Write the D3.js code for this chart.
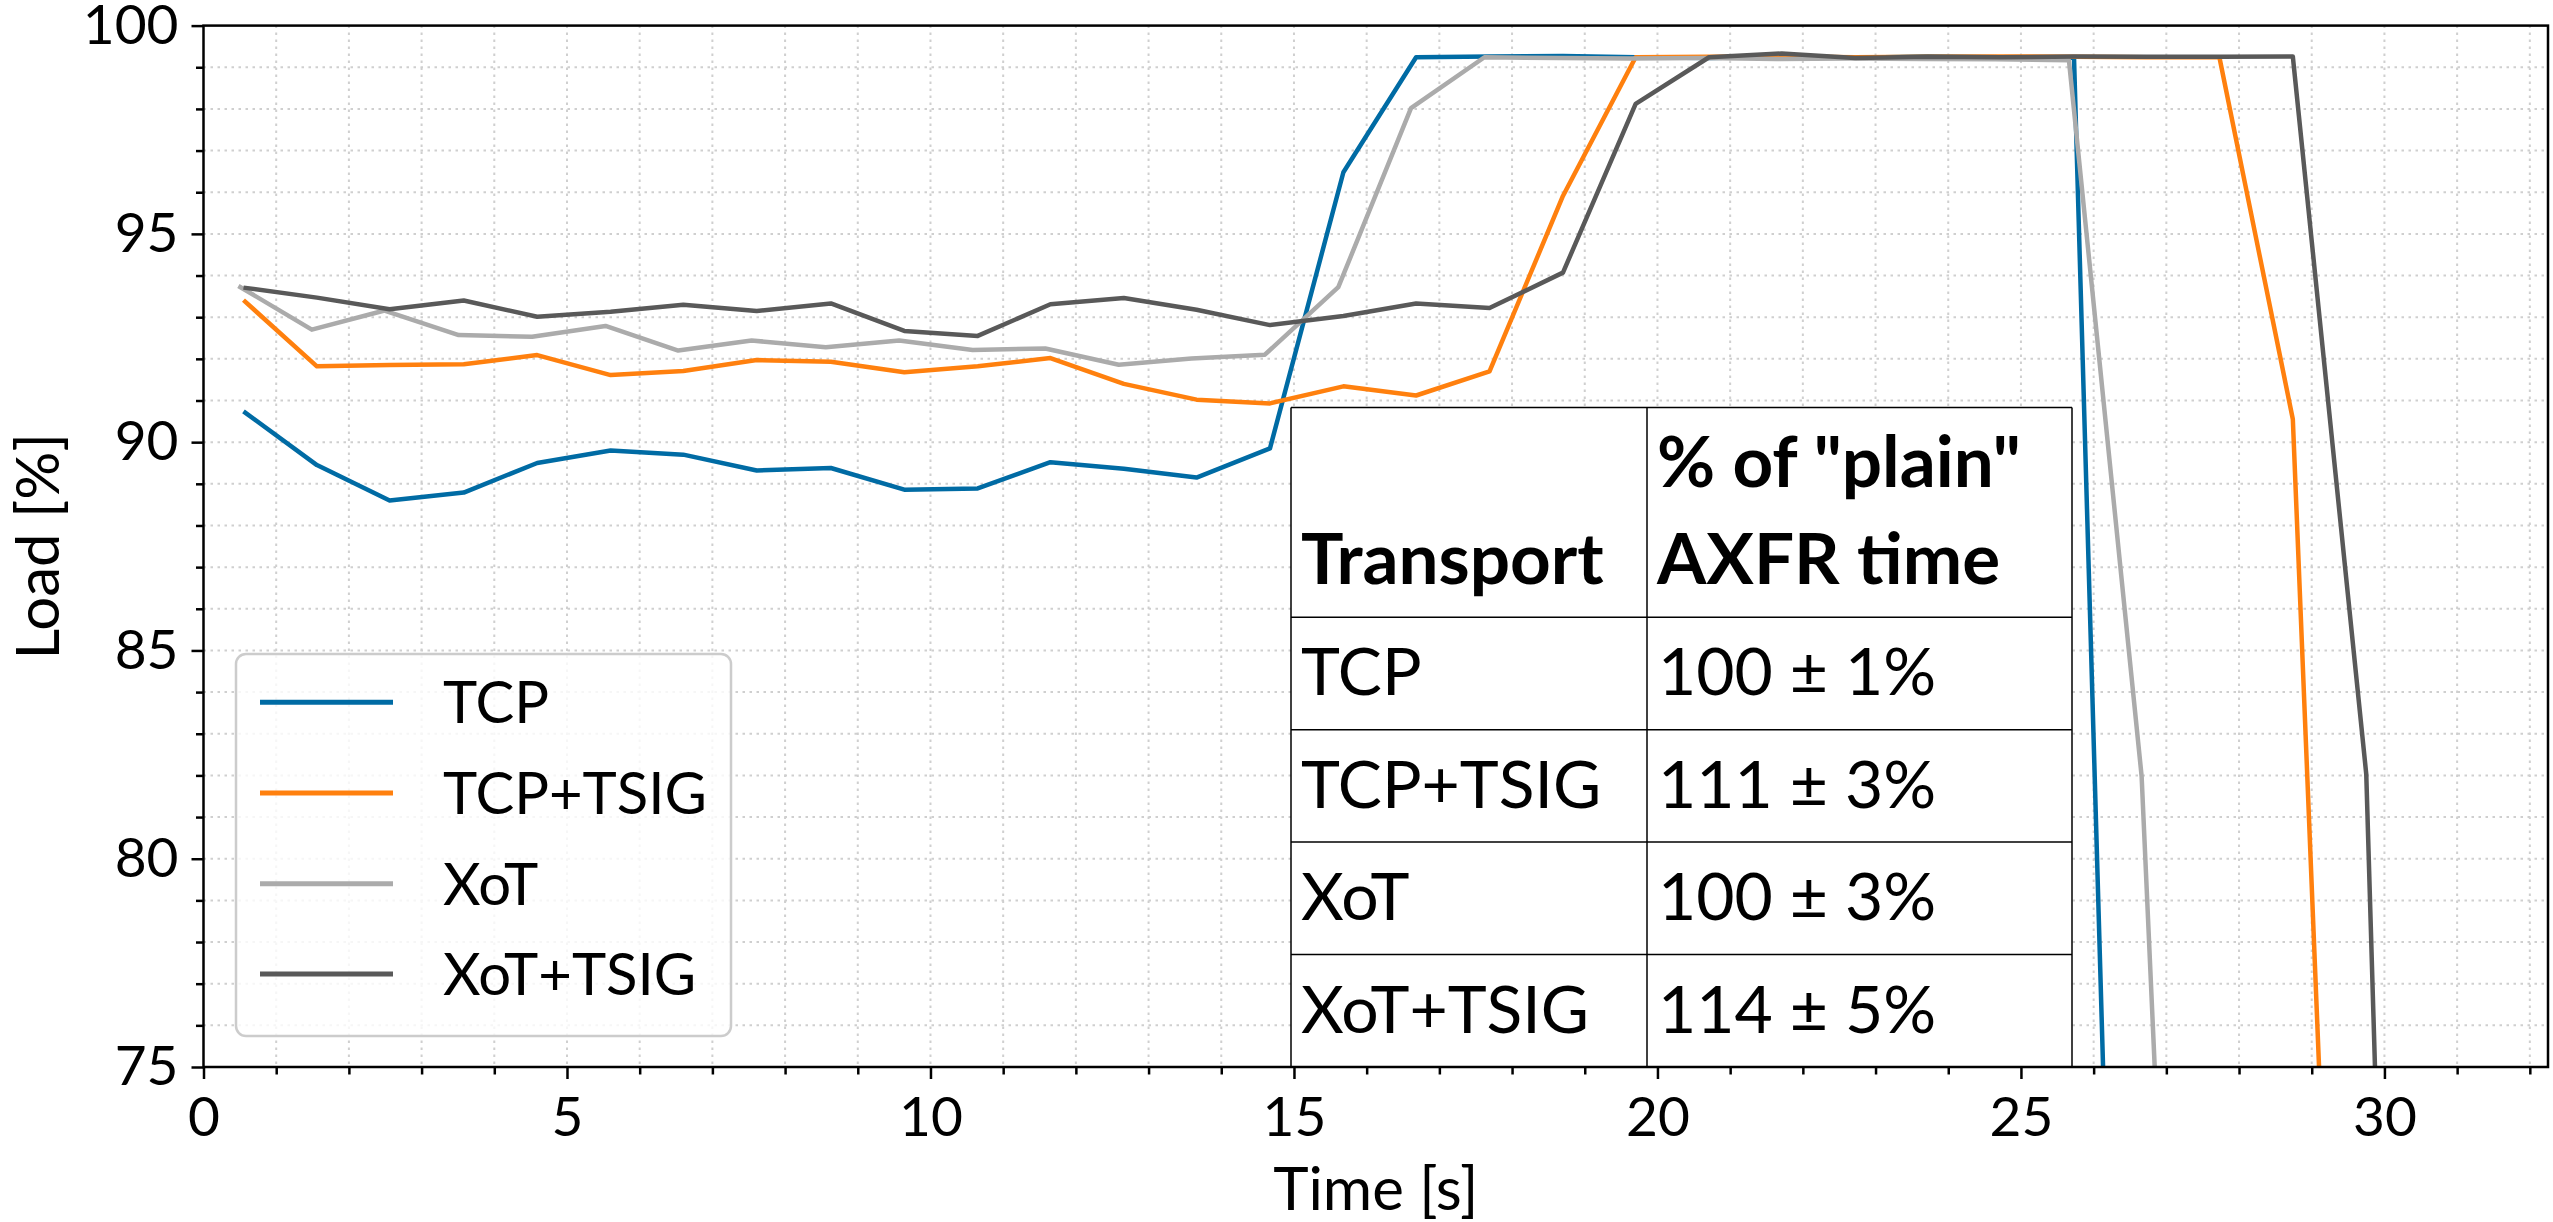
<!DOCTYPE html>
<html>
<head>
<meta charset="utf-8">
<script src="https://cdn.jsdelivr.net/npm/d3@7"></script>
<style>
    body { margin: 0; background: #fff; }
    svg { display: block; font-family: Lato, 'Noto Sans', sans-serif; }
</style>
</head>
<body>
<div id="chart"></div>
<script>
// time stamps [s] (XoT was sampled a bit earlier than the others)
const time = [0.55, 1.56, 2.56, 3.58, 4.59, 5.60, 6.60, 7.61, 8.63, 9.64, 10.65, 11.65, 12.66, 13.66, 14.67,
    15.68, 16.68, 17.69, 18.70, 19.70, 20.71, 21.71, 22.72, 23.72, 24.72, 25.73, 26.73, 27.73, 28.74, 29.75, 30.75];
const timeXot = [0.48, 1.49, 2.49, 3.51, 4.52, 5.53, 6.53, 7.54, 8.56, 9.57, 10.58, 11.58, 12.59, 13.59, 14.60,
    15.61, 16.61, 17.62, 18.63, 19.63, 20.64, 21.64, 22.65, 23.65, 24.65, 25.66, 26.66, 27.66];

// load [%]
const loadTcp = [90.74, 89.45, 88.60, 88.79, 89.50, 89.80, 89.70, 89.32, 89.38, 88.86, 88.89, 89.52, 89.36, 89.15, 89.85,
    96.48, 99.24, 99.26, 99.27, 99.24, 99.22, 99.25, 99.23, 99.26, 99.24, 99.23, 38.6];
const loadTcpTsig = [93.41, 91.82, 91.85, 91.87, 92.09, 91.61, 91.71, 91.97, 91.93, 91.68, 91.82, 92.02, 91.40, 91.02, 90.93,
    91.34, 91.12, 91.70, 95.91, 99.24, 99.25, 99.26, 99.24, 99.25, 99.26, 99.25, 99.24, 99.24, 90.55, 47.0];
const loadXot = [93.75, 92.70, 93.16, 92.57, 92.53, 92.79, 92.20, 92.44, 92.28, 92.44, 92.21, 92.25, 91.86, 92.01, 92.10,
    93.72, 98.02, 99.24, 99.22, 99.21, 99.22, 99.20, 99.21, 99.20, 99.19, 99.17, 81.98, 43.2];
const loadXotTsig = [93.71, 93.47, 93.19, 93.40, 93.01, 93.13, 93.30, 93.15, 93.33, 92.67, 92.55, 93.31, 93.46, 93.18, 92.81,
    93.03, 93.33, 93.22, 94.07, 98.12, 99.24, 99.33, 99.22, 99.25, 99.24, 99.26, 99.25, 99.25, 99.26, 82.03, 23.4];

const transports = ['TCP', 'TCP+TSIG', 'XoT', 'XoT+TSIG'];
const axfrTime = ['100 ± 1%', '111 ± 3%', '100 ± 3%', '114 ± 5%'];
const colors = ['#006BA4', '#FF800E', '#ABABAB', '#595959'];

const xTicks = [0, 5, 10, 15, 20, 25, 30];
const yTicks = [75, 80, 85, 90, 95, 100];

const series = [
    { name: transports[0], t: time, v: loadTcp },
    { name: transports[1], t: time, v: loadTcpTsig },
    { name: transports[2], t: timeXot, v: loadXot },
    { name: transports[3], t: time, v: loadXotTsig },
];

const W = 2553, H = 1222;
const margin = { top: 25.6, right: 5, bottom: 155, left: 203.5 };
const width = W - margin.left - margin.right;
const height = H - margin.top - margin.bottom;

const root = d3.select('#chart').append('svg')
    .attr('width', W)
    .attr('height', H);
const svg = root.append('g')
    .attr('transform', `translate(${margin.left},${margin.top})`);

const x = d3.scaleLinear().domain([0, 32.25]).range([0, width]);
const y = d3.scaleLinear().domain([75, 100]).range([height, 0]);

// grid (major + minor, every 1 unit)
const gridX = d3.range(1, 33);
const gridY = d3.range(76, 100);
const grid = svg.append('g')
    .attr('stroke', '#cfcfcf')
    .attr('stroke-width', 2)
    .attr('stroke-dasharray', '2.5,4.5');
grid.selectAll('.gx').data(gridX).join('line')
    .attr('x1', d => x(d)).attr('x2', d => x(d))
    .attr('y1', 0).attr('y2', height);
grid.selectAll('.gy').data(gridY).join('line')
    .attr('x1', 0).attr('x2', width)
    .attr('y1', d => y(d)).attr('y2', d => y(d));

// table
const tbl = { x: 1087.5, top: 382, col1: 356, col2: 425, headH: 209.6 };
const rowH = (height - tbl.top - tbl.headH) / transports.length;
const table = svg.append('g').attr('font-size', 66);
table.append('rect')
    .attr('x', tbl.x).attr('y', tbl.top)
    .attr('width', tbl.col1 + tbl.col2).attr('height', height - tbl.top)
    .attr('fill', '#fff');
const rowTops = [tbl.top, tbl.top + tbl.headH].concat(transports.map((d, i) => tbl.top + tbl.headH + (i + 1) * rowH));
table.selectAll('.hl').data(rowTops).join('line')
    .attr('x1', tbl.x).attr('x2', tbl.x + tbl.col1 + tbl.col2)
    .attr('y1', d => d).attr('y2', d => d)
    .attr('stroke', '#000').attr('stroke-width', 1.5);
[tbl.x, tbl.x + tbl.col1, tbl.x + tbl.col1 + tbl.col2].forEach(vx => {
    table.append('line')
        .attr('x1', vx).attr('x2', vx)
        .attr('y1', tbl.top).attr('y2', height)
        .attr('stroke', '#000').attr('stroke-width', 1.5);
});
const head = table.append('g')
    .attr('font-weight', 'bold')
    .attr('font-size', 71);
head.append('text')
    .attr('x', tbl.x + 10).attr('y', tbl.top + 176)
    .text('Transport');
head.append('text')
    .attr('x', tbl.x + tbl.col1 + 10).attr('y', tbl.top + 79)
    .text('% of "plain"');
head.append('text')
    .attr('x', tbl.x + tbl.col1 + 10).attr('y', tbl.top + 176)
    .text('AXFR time');
transports.forEach((d, i) => {
    const top = tbl.top + tbl.headH + i * rowH;
    table.append('text')
        .attr('x', tbl.x + 10).attr('y', top + 78)
        .text(d);
    table.append('text')
        .attr('x', tbl.x + tbl.col1 + 11).attr('y', top + 78)
        .text(axfrTime[i]);
});

// lines
svg.append('clipPath').attr('id', 'clip')
    .append('rect').attr('width', width).attr('height', height);
const line = d3.line()
    .x(d => x(d[0]))
    .y(d => y(d[1]));
svg.append('g').attr('clip-path', 'url(#clip)')
    .selectAll('path')
    .data(series)
    .join('path')
    .attr('fill', 'none')
    .attr('stroke', (d, i) => colors[i])
    .attr('stroke-width', 4.5)
    .attr('stroke-linejoin', 'round')
    .attr('d', d => line(d.v.map((v, i) => [d.t[i], v])));

// axes
svg.append('g')
    .attr('transform', `translate(0,${height})`)
    .call(d3.axisBottom(x).tickValues(xTicks).tickSize(12).tickPadding(18));
svg.append('g')
    .attr('transform', `translate(0,${height})`)
    .call(d3.axisBottom(x).tickValues(d3.range(0, 33).filter(d => d % 5 != 0)).tickSize(7.5).tickFormat(''));
svg.append('g')
    .call(d3.axisLeft(y).tickValues(yTicks).tickSize(12).tickPadding(13));
svg.append('g')
    .call(d3.axisLeft(y).tickValues(d3.range(76, 100).filter(d => d % 5 != 0)).tickSize(7.5).tickFormat(''));
svg.selectAll('.domain').remove();
svg.selectAll('.tick line').attr('stroke', '#000').attr('stroke-width', 2.5);
svg.selectAll('.tick text')
    .attr('font-size', 55)
    .attr('font-family', 'Lato, sans-serif')
    .attr('fill', '#000');

svg.append('rect')
    .attr('width', width).attr('height', height)
    .attr('fill', 'none')
    .attr('stroke', '#000')
    .attr('stroke-width', 2.5);

// axis titles
root.append('text')
    .attr('x', margin.left + width / 2)
    .attr('y', 1210)
    .attr('text-anchor', 'middle')
    .attr('font-size', 60)
    .text('Time [s]');
root.append('text')
    .attr('transform', `translate(59,${margin.top + height / 2}) rotate(-90)`)
    .attr('text-anchor', 'middle')
    .attr('font-size', 60)
    .text('Load [%]');

// legend
const lg = svg.append('g').attr('transform', 'translate(32.5,628.4)');
lg.append('rect')
    .attr('width', 495).attr('height', 382)
    .attr('rx', 10).attr('ry', 10)
    .attr('fill', '#fff').attr('fill-opacity', 0.8)
    .attr('stroke', '#cccccc').attr('stroke-width', 2.5);
const legendY = [48.3, 139, 229.7, 320];
series.forEach((s, i) => {
    lg.append('line')
        .attr('x1', 24).attr('x2', 157)
        .attr('y1', legendY[i]).attr('y2', legendY[i])
        .attr('stroke', colors[i]).attr('stroke-width', 5);
    lg.append('text')
        .attr('x', 207).attr('y', legendY[i])
        .attr('dy', '0.36em')
        .attr('font-size', 58)
        .text(s.name);
});
</script>
</body>
</html>
